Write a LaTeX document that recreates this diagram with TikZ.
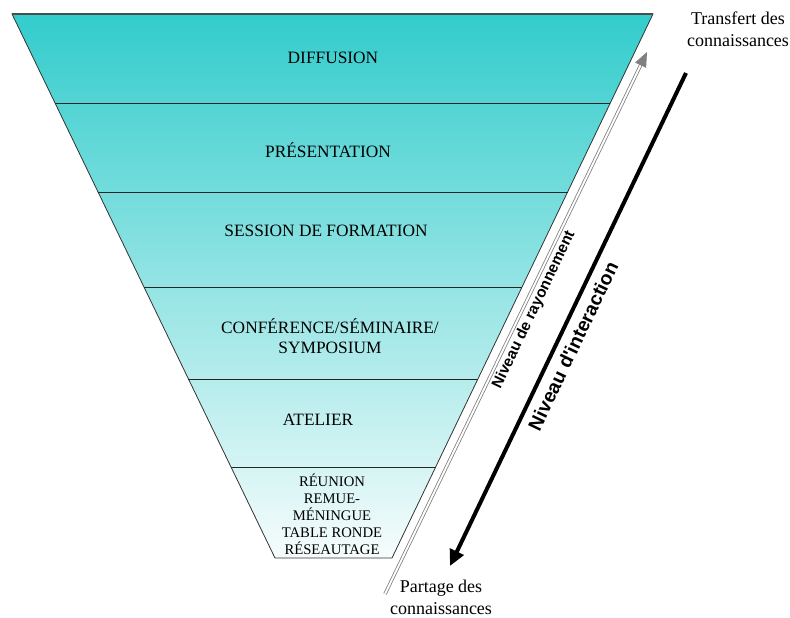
\documentclass[tikz,border=0pt]{standalone}
\usepackage{fontspec}
\setmainfont{Liberation Serif}
\setsansfont{Liberation Sans}
\usetikzlibrary{positioning}
\usetikzlibrary{calc}
\usetikzlibrary{arrows.meta}
\definecolor{funneltop}{RGB}{51,204,204}
\definecolor{funnelbot}{RGB}{246,252,252}

\begin{document}
\begin{tikzpicture}[x=0.75pt, y=-0.75pt,
    level/.style={font=\fontsize{13}{15}\selectfont, align=center},
    smalllevel/.style={font=\fontsize{11}{12.8}\selectfont, align=center},
    side/.style={font=\fontsize{13.5}{16.5}\selectfont, align=center},
    slant/.style={font=\sffamily\bfseries, rotate=64.5}]
            \useasboundingbox (0,0) rectangle (790,618);

            % funnel
            \coordinate (TL) at (12,14);
            \coordinate (TR) at (653,14);
            \coordinate (BR) at (392,558);
            \coordinate (BL) at (275,558);
            \shade[top color=funneltop, bottom color=funnelbot] (TL) -- (TR) -- (BR) -- (BL) -- cycle;
            \draw[black!80, line width=0.6pt] (TL) -- (TR) -- (BR) -- (BL) -- cycle;
            \draw[black!70, line width=1pt] (TL) -- (TR);

            % separators
            \foreach \y in {103,192,287,379,467} {
                \draw[black!85, line width=0.6pt] ($(TL)!{(\y-14)/544}!(BL)$) -- ($(TR)!{(\y-14)/544}!(BR)$);
            }

            % levels
            \node[level] (diff) at (333,58) {DIFFUSION};
            \node[level] (pres) at (328,150) {PRÉSENTATION};
            \node[level] (sess) at (326,231) {SESSION DE FORMATION};
            \node[level] (conf) at (330,336) {CONFÉRENCE/SÉMINAIRE/\\SYMPOSIUM};
            \node[level] (atel) at (318,420) {ATELIER};
            \node[smalllevel] (reun) at (332,514) {RÉUNION\\REMUE-\\MÉNINGUE\\TABLE RONDE\\RÉSEAUTAGE};

            % side labels
            \node[side] (transfert) at (738,29) {Transfert des\\connaissances};
            \node[side] (partage) at (441,597) {Partage des\\connaissances};

            % arrows
            \coordinate (ray0) at (385,594);
            \coordinate (ray1) at (647,52);
            \coordinate (int0) at (686,73);
            \coordinate (int1) at (450,566);
            \draw[gray, line width=0.6pt, double=white, double distance=1.4pt,
                  -{Triangle[length=11pt, width=9pt, fill=gray]}] (ray0) -- (ray1);
            \draw[black, line width=3pt, -{Triangle[length=12pt, width=11pt]}] (int0) -- (int1);

            \node[slant, font=\sffamily\bfseries\fontsize{11.5}{13}\selectfont] (rayon) at (534,310) {Niveau de rayonnement};
            \node[slant, font=\sffamily\bfseries\fontsize{14.5}{16}\selectfont] (inter) at (573,346) {Niveau d\textquotesingle interaction};
\end{tikzpicture}
\end{document}
